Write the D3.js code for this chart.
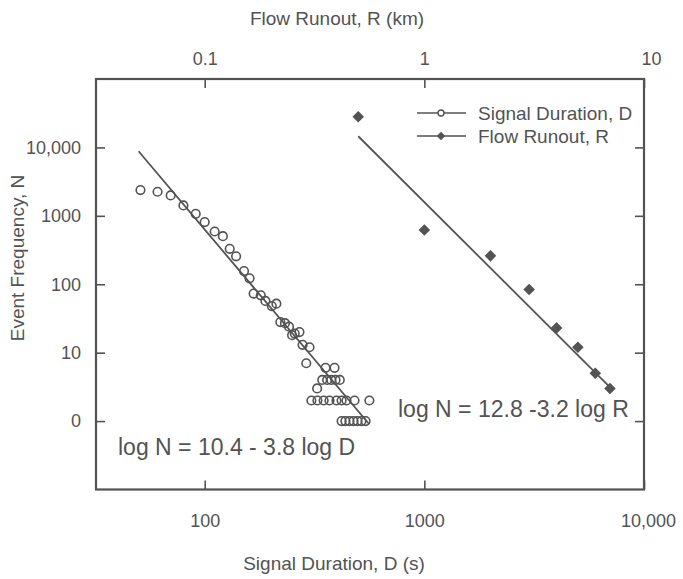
<!DOCTYPE html>
<html>
<head>
<meta charset="utf-8">
<script src="https://cdn.jsdelivr.net/npm/d3@7"></script>
<style>
  html, body { margin: 0; padding: 0; background: #fff; }
  svg { display: block; font-family: "Liberation Sans", Arial, Helvetica, sans-serif; }
</style>
</head>
<body>
<svg id="chart" width="683" height="579"></svg>
<script>
// Signal duration D (s) and event count N for the seismic signals
const durationD = [51, 61, 70, 80, 91, 100, 111, 121, 130, 139, 151, 160, 167, 180, 189, 202, 212,
  221, 232, 242, 250, 257, 270, 279, 300, 290, 325,
  343, 361, 377, 394, 412,
  355, 390,
  306, 326, 348, 370, 398, 420, 442, 481, 562,
  420, 437, 456, 476, 496, 517, 540];
const countD = [2380, 2250, 1990, 1420, 1070, 810, 590, 505, 330, 256, 156, 122, 73, 69, 57, 48, 52,
  28, 27, 24, 18, 19, 20, 13, 12, 7, 3,
  4, 4, 4, 4, 4,
  6, 6,
  2, 2, 2, 2, 2, 2, 2, 2, 2,
  1, 1, 1, 1, 1, 1, 1];

// Flow runout R (km) and event count N
const runoutR = [0.5, 1, 2, 3, 4, 5, 6, 7];
const countR = [28000, 620, 260, 84, 23, 12, 5, 3];

// Fitted power laws: log N = a - b log X (X in s for D, in m for R)
const fitD = { a: 10.4, b: 3.8, from: 50, to: 560, label: "log N = 10.4 - 3.8 log D" };
const fitR = { a: 12.8, b: 3.2, from: 0.5, to: 6.9, label: "log N = 12.8 -3.2 log R" };

// Axis ticks
const bottomTicks = [100, 1000, 10000];
const bottomLabels = ["100", "1000", "10,000"];
const topTicks = [0.1, 1, 10];
const topLabels = ["0.1", "1", "10"];
const leftTicks = [1, 10, 100, 1000, 10000];
const leftLabels = ["0", "10", "100", "1000", "10,000"];

const ink = "#535353";
const svg = d3.select("#chart");

const plotL = 96, plotR = 644, plotT = 79, plotB = 489.5;
const x = d3.scaleLog().domain([32, 10000]).range([plotL, plotR]);
const xTop = d3.scaleLog().domain([0.032, 10]).range([plotL, plotR]);
const y = d3.scaleLog().domain([0.1, 100000]).range([plotB, plotT]);

// Axes with inward ticks
function styleAxis(g) {
  g.select(".domain").remove();
  g.selectAll(".tick line").attr("stroke", ink).attr("stroke-width", 1.6);
  g.selectAll(".tick text").attr("fill", ink).style("font-size", "18px")
    .style("font-family", "'Liberation Sans', Arial, sans-serif");
}

svg.append("g").attr("transform", `translate(0,${plotB})`)
  .call(d3.axisBottom(x).tickValues(bottomTicks).tickSize(-9).tickPadding(25)
    .tickFormat((d, i) => bottomLabels[i]))
  .call(styleAxis)
  .call(g => g.selectAll(".tick text").filter(d => d === 10000).attr("dx", 4));

svg.append("g").attr("transform", `translate(0,${plotT})`)
  .call(d3.axisTop(xTop).tickValues(topTicks).tickSize(-9).tickPadding(14)
    .tickFormat((d, i) => topLabels[i]))
  .call(styleAxis)
  .call(g => g.selectAll(".tick text").filter(d => d === 10).attr("dx", 7));

svg.append("g").attr("transform", `translate(${plotL},0)`)
  .call(d3.axisLeft(y).tickValues(leftTicks).tickSize(-9).tickPadding(15)
    .tickFormat((d, i) => leftLabels[i]))
  .call(styleAxis);

svg.append("g").attr("transform", `translate(${plotR},0)`)
  .call(d3.axisRight(y).tickValues(leftTicks).tickSize(-9).tickFormat(() => ""))
  .call(styleAxis);

// Plot frame
svg.append("rect")
  .attr("x", plotL).attr("y", plotT)
  .attr("width", plotR - plotL).attr("height", plotB - plotT)
  .attr("fill", "none").attr("stroke", ink).attr("stroke-width", 2.2);

// Axis titles
svg.append("text").attr("x", 337).attr("y", 25).attr("text-anchor", "middle")
  .attr("fill", ink).style("font-size", "19px").text("Flow Runout, R (km)");
svg.append("text").attr("x", 334).attr("y", 570).attr("text-anchor", "middle")
  .attr("fill", ink).style("font-size", "19px").text("Signal Duration, D (s)");
svg.append("text").attr("transform", "translate(24,258) rotate(-90)").attr("text-anchor", "middle")
  .attr("fill", ink).style("font-size", "19px").text("Event Frequency, N");

// Fitted lines
const fitLineD = [fitD.from, fitD.to].map(d => [x(d), y(Math.pow(10, fitD.a - fitD.b * Math.log10(d)))]);
const fitLineR = [fitR.from, fitR.to].map(r => [xTop(r), y(Math.pow(10, fitR.a - fitR.b * Math.log10(r * 1000)))]);
const line = d3.line();
svg.append("path").attr("d", line(fitLineD)).attr("fill", "none").attr("stroke", ink).attr("stroke-width", 1.8);
svg.append("path").attr("d", line(fitLineR)).attr("fill", "none").attr("stroke", ink).attr("stroke-width", 1.8);

// Signal duration points (open circles)
svg.append("g").selectAll("circle").data(durationD).join("circle")
  .attr("cx", d => x(d)).attr("cy", (d, i) => y(countD[i])).attr("r", 4.3)
  .attr("fill", "none").attr("stroke", ink).attr("stroke-width", 1.6);

// Flow runout points (filled diamonds)
const diamond = s => `M0,${-s}L${s},0L0,${s}L${-s},0Z`;
svg.append("g").selectAll("path").data(runoutR).join("path")
  .attr("transform", (r, i) => `translate(${xTop(r)},${y(countR[i])})`)
  .attr("d", diamond(5.8)).attr("fill", ink);

// Equation labels
svg.append("text").attr("x", 118).attr("y", 455).attr("fill", ink)
  .style("font-size", "23px").text(fitD.label);
svg.append("text").attr("x", 398).attr("y", 417).attr("fill", ink)
  .style("font-size", "23px").text(fitR.label);

// Legend
const legend = svg.append("g").attr("transform", "translate(417,0)");
const rows = [
  { name: "Signal Duration, D", y: 113, marker: "circle" },
  { name: "Flow Runout, R", y: 136, marker: "diamond" }
];
rows.forEach(r => {
  legend.append("line").attr("x1", 0).attr("x2", 49).attr("y1", r.y).attr("y2", r.y)
    .attr("stroke", ink).attr("stroke-width", 1.6);
  if (r.marker === "circle") {
    legend.append("circle").attr("cx", 24).attr("cy", r.y).attr("r", 3)
      .attr("fill", "#fff").attr("stroke", ink).attr("stroke-width", 1.4);
  } else {
    legend.append("path").attr("transform", `translate(24,${r.y})`).attr("d", diamond(4.2)).attr("fill", ink);
  }
  legend.append("text").attr("x", 61).attr("y", r.y + 6.5).attr("fill", ink)
    .style("font-size", "19px").text(r.name);
});
</script>
</body>
</html>
